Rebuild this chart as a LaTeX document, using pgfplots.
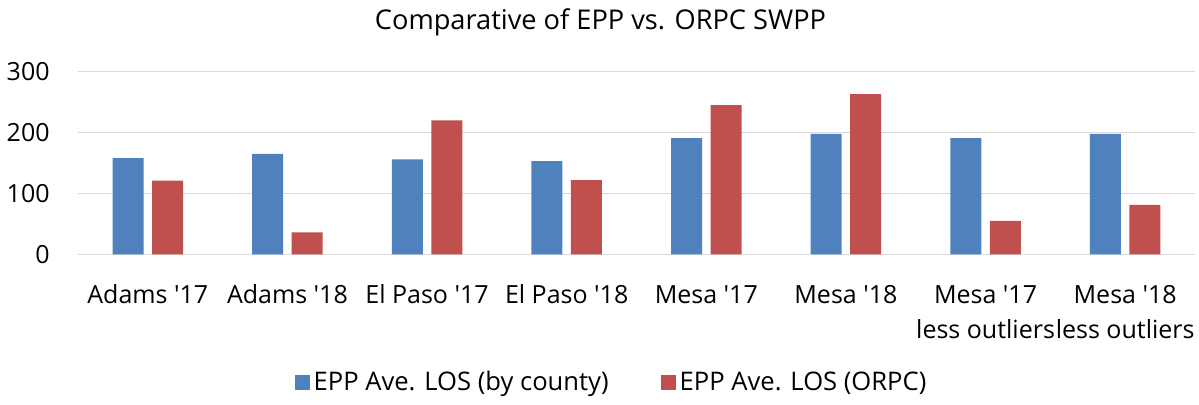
\documentclass[border=0pt]{standalone}
\usepackage{fontspec}
\setmainfont{Open Sans}
\usepackage{pgfplots}
\pgfplotsset{compat=1.18}

\definecolor{barblue}{HTML}{4F81BD}
\definecolor{barred}{HTML}{C0504D}
\definecolor{gridgray}{HTML}{D9D9D9}

\newcommand{\q}{\textquotesingle}
\newcommand{\st}{\rule{0pt}{12pt}}

\begin{document}
\fontsize{12.5pt}{15pt}\selectfont
\begin{tikzpicture}
\useasboundingbox (0,0) rectangle (599.5pt,202.5pt);
\begin{axis}[
    at={(39pt,75.35pt)},
    anchor=south west,
    scale only axis,
    width=558.5pt,
    height=91.3pt,
    ybar=4.25pt,
    bar width=15.5pt,
    ymin=0, ymax=300,
    ytick={0,100,200,300},
    xmin=-0.5, xmax=7.5,
    xtick={0,...,7},
    xticklabels={\st Adams \q17, \st Adams \q18, \st El Paso \q17, \st El Paso \q18,
        \st Mesa \q17, \st Mesa \q18, \st Mesa \q17\\[2.5pt]less outliers, \st Mesa \q18\\[2.5pt]less outliers},
    axis line style={draw=none},
    major tick length=0pt,
    ymajorgrids,
    grid style={gridgray, line width=0.75pt},
    font=\fontsize{12.5pt}{15pt}\selectfont,
    /pgf/number format/assume math mode=true,
    yticklabel style={anchor=east, inner sep=0pt, xshift=-14pt},
    xticklabel style={align=center, anchor=north, inner sep=0pt, yshift=-12.35pt},
    title={Comparative of EPP vs. ORPC SWPP},
    title style={at={(0.5,1)}, anchor=center, yshift=18.85pt, xshift=-18pt, inner sep=0pt,
        font=\fontsize{13.6pt}{16pt}\selectfont},
    legend columns=2,
    legend style={at={(0.4785,-0.705)}, anchor=center, draw=none, fill=none,
        inner sep=0pt, font=\fontsize{12.8pt}{15pt}\selectfont,
        /tikz/every even column/.append style={column sep=24pt}},
    legend image code/.code={\fill[#1] (-1.5pt,-3.5pt) rectangle (6pt,4pt);},
    clip=false,
]
\addplot[fill=barblue, draw=none] coordinates
{(0,158) (1,165) (2,156) (3,153) (4,191) (5,198) (6,191) (7,198)};
\addplot[fill=barred, draw=none] coordinates
{(0,121) (1,36) (2,220) (3,122) (4,245) (5,263) (6,55) (7,81)};
\legend{EPP Ave. LOS (by county), EPP Ave. LOS (ORPC)}
\end{axis}
\end{tikzpicture}
\end{document}
